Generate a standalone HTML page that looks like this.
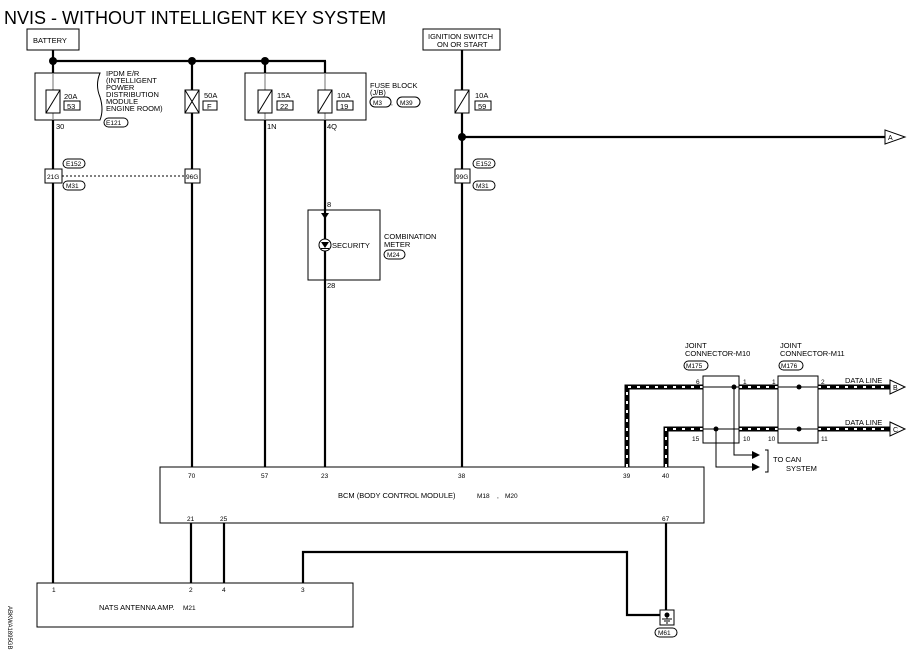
<!DOCTYPE html>
<html><head><style>body{margin:0;background:#fff}svg{display:block}text{font-family:"Liberation Sans",sans-serif;fill:#000}</style></head><body>
<svg width="916" height="667" viewBox="0 0 916 667" xmlns="http://www.w3.org/2000/svg">
<rect width="916" height="667" fill="#fff"/>
<text x="4" y="24" font-size="18">NVIS - WITHOUT INTELLIGENT KEY SYSTEM</text>
<g stroke="#000" fill="none">
<rect x="27" y="29" width="52" height="21" stroke-width="1"/>
<rect x="423" y="29" width="77" height="21" stroke-width="1"/>
<g stroke-width="2.2">
<line x1="53" y1="50" x2="53" y2="583"/>
<line x1="53" y1="61" x2="326" y2="61"/>
<line x1="192" y1="61" x2="192" y2="467"/>
<line x1="265" y1="61" x2="265" y2="467"/>
<line x1="325" y1="61" x2="325" y2="467"/>
<line x1="462" y1="50" x2="462" y2="467"/>
<line x1="462" y1="137" x2="886" y2="137"/>
<line x1="191" y1="523" x2="191" y2="583"/>
<line x1="224" y1="523" x2="224" y2="583"/>
<polyline points="303,583 303,552 627,552 627,615 666,615"/>
<line x1="666" y1="523" x2="666" y2="615"/>
</g>
<path d="M35,73 H100 Q95,85 100,97 Q104,110 100,120 H35 Z" stroke-width="1" fill="#fff"/>
<rect x="245" y="73" width="121" height="47" stroke-width="1" fill="#fff"/>
<g stroke-width="1.2">
<line x1="53" y1="73" x2="53" y2="120" stroke="#888"/>
<line x1="265" y1="73" x2="265" y2="120" stroke="#888"/>
<line x1="325" y1="73" x2="325" y2="120" stroke="#888"/>
</g>
<g stroke-width="1" fill="#fff">
<rect x="46" y="90" width="14" height="23"/><line x1="46" y1="113" x2="60" y2="90"/>
<rect x="185" y="90" width="14" height="23"/><line x1="185" y1="113" x2="199" y2="90"/><line x1="185" y1="90" x2="199" y2="113"/>
<rect x="258" y="90" width="14" height="23"/><line x1="258" y1="113" x2="272" y2="90"/>
<rect x="318" y="90" width="14" height="23"/><line x1="318" y1="113" x2="332" y2="90"/>
<rect x="455" y="90" width="14" height="23"/><line x1="455" y1="113" x2="469" y2="90"/>
<rect x="64" y="101" width="16" height="9"/>
<rect x="203" y="101" width="14" height="9"/>
<rect x="277" y="101" width="16" height="9"/>
<rect x="337" y="101" width="16" height="9"/>
<rect x="475" y="101" width="16" height="9"/>
<rect x="45" y="169" width="17" height="14"/>
<rect x="185" y="169" width="15" height="14"/>
<rect x="455" y="169" width="15" height="14"/>
</g>
<line x1="62" y1="176" x2="185" y2="176" stroke-width="1" stroke-dasharray="2,2"/>
<g stroke-width="1">
<rect x="104" y="118" width="24" height="9" rx="4.5"/>
<rect x="370" y="97" width="21" height="10" rx="5"/>
<rect x="397" y="97" width="23" height="10" rx="5"/>
<rect x="63" y="159" width="22" height="9" rx="4.5"/>
<rect x="63" y="181" width="22" height="9" rx="4.5"/>
<rect x="473" y="159" width="22" height="9" rx="4.5"/>
<rect x="473" y="181" width="22" height="9" rx="4.5"/>
<rect x="384" y="250" width="21" height="9" rx="4.5"/>
<rect x="474" y="490" width="22" height="10" rx="5"/>
<rect x="502" y="490" width="23" height="10" rx="5"/>
<rect x="180" y="602" width="22" height="10" rx="5"/>
<rect x="655" y="628" width="22" height="9" rx="4.5"/>
<rect x="684" y="361" width="24" height="9" rx="4.5"/>
<rect x="779" y="361" width="24" height="9" rx="4.5"/>
</g>
<rect x="308" y="210" width="72" height="70" stroke-width="1" fill="none"/>
<circle cx="325" cy="245" r="6" stroke-width="1" fill="#fff"/>
<rect x="160" y="467" width="544" height="56" stroke-width="1" fill="#fff"/>
<rect x="37" y="583" width="316" height="44" stroke-width="1" fill="#fff"/>
<rect x="660" y="610" width="14" height="15" stroke-width="1" fill="#fff"/>
<line x1="667" y1="615" x2="667" y2="619" stroke-width="1"/>
<line x1="662" y1="619" x2="672" y2="619" stroke-width="1"/>
<line x1="664" y1="621" x2="670" y2="621" stroke-width="1"/>
<line x1="666" y1="623" x2="668" y2="623" stroke-width="1"/>
<g stroke-width="5">
<polyline points="627,467 627,387 703,387"/>
<polyline points="666,467 666,429 703,429"/>
<line x1="739" y1="387" x2="778" y2="387"/><line x1="739" y1="429" x2="778" y2="429"/>
<line x1="818" y1="387" x2="890" y2="387"/><line x1="818" y1="429" x2="890" y2="429"/>
</g>
<g stroke-width="2" stroke="#fff" stroke-dasharray="3,6">
<polyline points="627,467 627,387 703,387"/>
<polyline points="666,467 666,429 703,429"/>
<line x1="739" y1="387" x2="778" y2="387"/><line x1="739" y1="429" x2="778" y2="429"/>
<line x1="818" y1="387" x2="890" y2="387"/><line x1="818" y1="429" x2="890" y2="429"/>
</g>
<rect x="703" y="376" width="36" height="67" stroke-width="1" fill="#fff"/>
<rect x="778" y="376" width="40" height="67" stroke-width="1" fill="#fff"/>
<g stroke-width="1">
<line x1="703" y1="387" x2="739" y2="387"/><line x1="703" y1="429" x2="739" y2="429"/>
<line x1="778" y1="387" x2="818" y2="387"/><line x1="778" y1="429" x2="818" y2="429"/>
<polyline points="734,387 734,455 752,455"/>
<polyline points="716,429 716,467 752,467"/>
<path d="M765,450 h3 v22 h-3"/>
<path d="M885,130 l20,7 l-20,7 Z" fill="#fff"/>
<path d="M890,380 l15,7 l-15,7 Z" fill="#fff"/>
<path d="M890,422 l15,7 l-15,7 Z" fill="#fff"/>
</g>
</g>
<g fill="#000">
<circle cx="53" cy="61" r="4"/><circle cx="192" cy="61" r="4"/><circle cx="265" cy="61" r="4"/><circle cx="462" cy="137" r="4"/>
<circle cx="734" cy="387" r="2.5"/><circle cx="716" cy="429" r="2.5"/><circle cx="799" cy="387" r="2.5"/><circle cx="799" cy="429" r="2.5"/>
<circle cx="667" cy="615" r="2.5"/>
<path d="M321,213 h8 l-4,6 Z"/><path d="M321,242 h8 l-4,6 Z"/><rect x="321" y="248" width="8" height="1"/>
<path d="M752,451 l8,4 l-8,4 Z"/><path d="M752,463 l8,4 l-8,4 Z"/>
</g>
<g font-size="7.5">
<text x="33" y="43">BATTERY</text>
<text x="428" y="39">IGNITION SWITCH</text><text x="437" y="47">ON OR START</text>
<text x="106" y="76">IPDM E/R</text><text x="106" y="83">(INTELLIGENT</text><text x="106" y="90">POWER</text><text x="106" y="97">DISTRIBUTION</text><text x="106" y="104">MODULE</text><text x="106" y="111">ENGINE ROOM)</text>
<text x="64" y="99">20A</text><text x="67" y="109">53</text>
<text x="204" y="98">50A</text><text x="207" y="109">F</text>
<text x="277" y="98">15A</text><text x="280" y="109">22</text>
<text x="337" y="98">10A</text><text x="340" y="109">19</text>
<text x="475" y="98">10A</text><text x="478" y="109">59</text>
<text x="370" y="88">FUSE BLOCK</text><text x="370" y="95">(J/B)</text>
<text x="56" y="129">30</text><text x="267" y="129">1N</text><text x="327" y="129">4Q</text>
<text x="327" y="207">8</text><text x="327" y="288">28</text>
<text x="332" y="248">SECURITY</text>
<text x="384" y="239">COMBINATION</text><text x="384" y="247">METER</text>
<text x="685" y="348">JOINT</text><text x="685" y="356">CONNECTOR-M10</text>
<text x="780" y="348">JOINT</text><text x="780" y="356">CONNECTOR-M11</text>
<text x="845" y="383">DATA LINE</text><text x="845" y="425">DATA LINE</text>
<text x="773" y="462">TO CAN</text><text x="786" y="471">SYSTEM</text>
<text x="338" y="498">BCM (BODY CONTROL MODULE)</text>
<text x="99" y="610">NATS ANTENNA AMP.</text>
</g>
<g font-size="6.5">
<text x="106" y="125">E121</text><text x="373" y="105">M3</text><text x="391" y="105">,</text><text x="400" y="105">M39</text>
<text x="66" y="166">E152</text><text x="66" y="188">M31</text><text x="476" y="166">E152</text><text x="476" y="188">M31</text>
<text x="47" y="179">21G</text><text x="186" y="179">96G</text><text x="456" y="179">99G</text>
<text x="387" y="257">M24</text><text x="477" y="498">M18</text><text x="497" y="498">,</text><text x="505" y="498">M20</text>
<text x="183" y="610">M21</text><text x="658" y="635">M61</text>
<text x="686" y="368">M175</text><text x="781" y="368">M176</text>
<text x="188" y="478">70</text><text x="261" y="478">57</text><text x="321" y="478">23</text><text x="458" y="478">38</text><text x="623" y="478">39</text><text x="662" y="478">40</text>
<text x="187" y="521">21</text><text x="220" y="521">25</text><text x="662" y="521">67</text>
<text x="52" y="592">1</text><text x="189" y="592">2</text><text x="222" y="592">4</text><text x="301" y="592">3</text>
<text x="696" y="384">6</text><text x="743" y="384">1</text><text x="772" y="384">1</text><text x="821" y="384">2</text>
<text x="692" y="441">15</text><text x="743" y="441">10</text><text x="768" y="441">10</text><text x="821" y="441">11</text>
<text x="888" y="140" font-size="7">A</text><text x="893" y="390" font-size="7">B</text><text x="893" y="432" font-size="7">C</text>
<text transform="translate(8,606) rotate(90)" font-size="6">ABKWA1895GB</text>
</g>
</svg>
</body></html>
